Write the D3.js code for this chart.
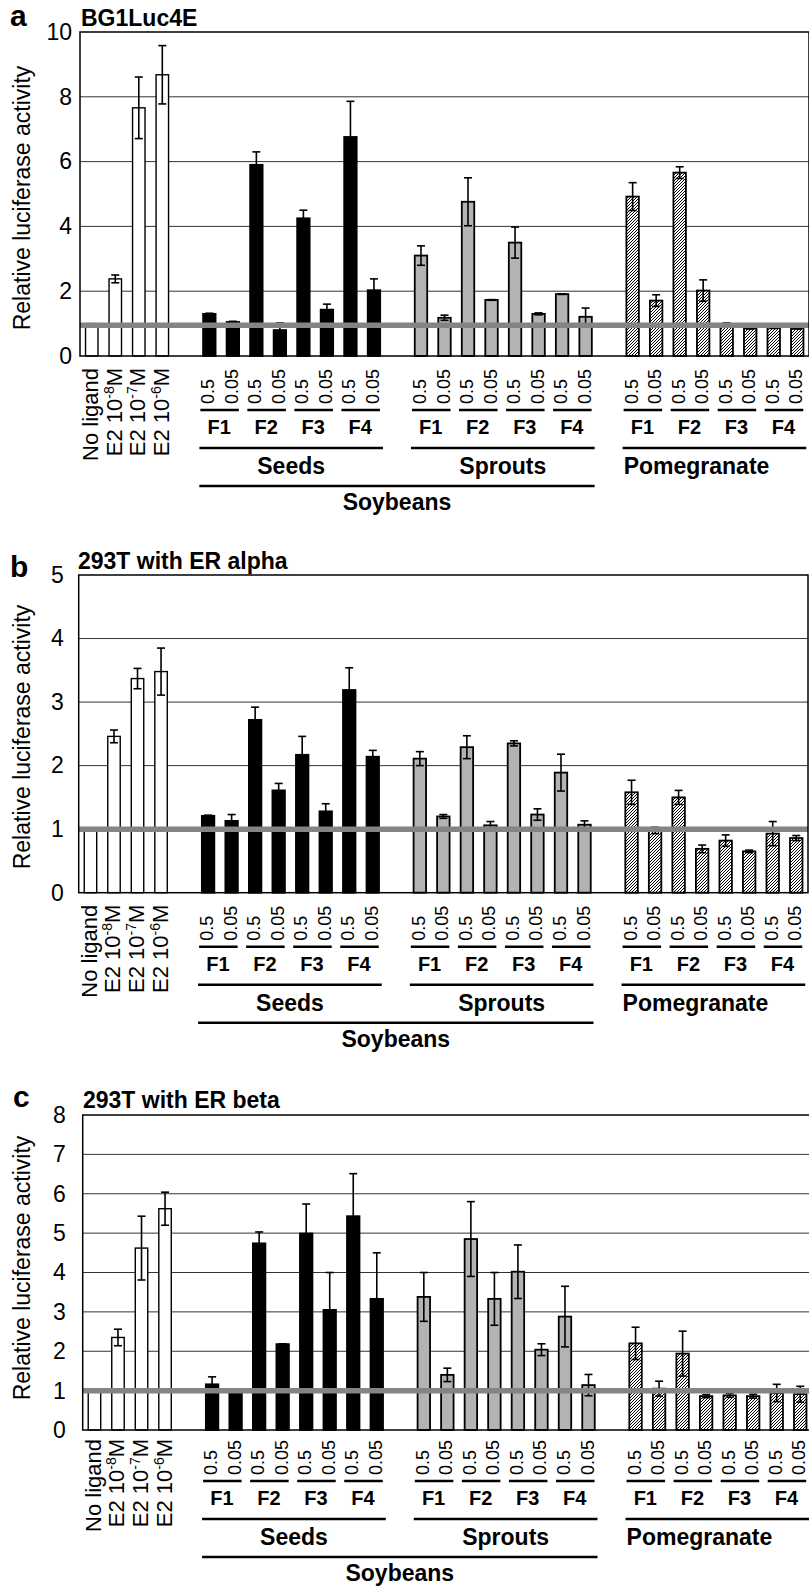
<!DOCTYPE html>
<html><head><meta charset="utf-8">
<script src="https://cdn.jsdelivr.net/npm/d3@7"></script>
<style>
body{margin:0;background:#fff}
svg{display:block;font-family:"Liberation Sans",Arial,Helvetica,sans-serif}
</style>
</head><body><div id="chart"></div>
<script>
const controls  = ['No ligand', 'E2 10-8M', 'E2 10-7M', 'E2 10-6M'];
const sources   = ['Seeds', 'Sprouts', 'Pomegranate'];
const fractions = ['F1', 'F2', 'F3', 'F4'];
const doses     = ['0.5', '0.05'];

const panelLetters = ['a', 'b', 'c'];
const panelTitles  = ['BG1Luc4E', '293T with ER alpha', '293T with ER beta'];
const yMax   = [10, 5, 8];
const yStep  = [2, 1, 1];
const refLvl = [0.95, 1, 1];

// order: 4 controls, Seeds F1..F4 (0.5, 0.05), Sprouts, Pomegranate
const meansA = [1.00, 2.38, 7.66, 8.68,
  1.30, 1.05, 5.90, 0.80, 4.25, 1.43, 6.76, 2.03,
  3.10, 1.18, 4.76, 1.73, 3.50, 1.30, 1.91, 1.21,
  4.92, 1.71, 5.66, 2.02, 0.96, 0.85, 0.88, 0.86];
const errsA  = [0, 0.12, 0.95, 0.90,
  0.02, 0.02, 0.40, 0.22, 0.25, 0.17, 1.10, 0.35,
  0.30, 0.08, 0.74, 0.01, 0.48, 0.03, 0.01, 0.27,
  0.43, 0.18, 0.18, 0.33, 0.06, 0.02, 0.03, 0.03];
const meansB = [1.00, 2.46, 3.37, 3.48,
  1.21, 1.13, 2.72, 1.61, 2.17, 1.28, 3.19, 2.14,
  2.11, 1.20, 2.29, 1.06, 2.35, 1.23, 1.89, 1.07,
  1.58, 0.98, 1.50, 0.69, 0.82, 0.65, 0.93, 0.86];
const errsB  = [0, 0.10, 0.16, 0.37,
  0.01, 0.10, 0.20, 0.11, 0.29, 0.12, 0.35, 0.10,
  0.11, 0.03, 0.18, 0.06, 0.04, 0.09, 0.29, 0.06,
  0.19, 0.05, 0.11, 0.06, 0.09, 0.02, 0.19, 0.04];
const meansC = [1.00, 2.35, 4.62, 5.62,
  1.16, 1.00, 4.74, 2.18, 4.99, 3.05, 5.43, 3.33,
  3.38, 1.40, 4.85, 3.33, 4.02, 2.04, 2.88, 1.14,
  2.20, 1.05, 1.94, 0.86, 0.88, 0.86, 0.94, 0.91];
const errsC  = [0, 0.21, 0.81, 0.42,
  0.19, 0, 0.29, 0.01, 0.75, 0.95, 1.08, 1.17,
  0.62, 0.17, 0.95, 0.67, 0.68, 0.15, 0.77, 0.27,
  0.41, 0.19, 0.57, 0.04, 0.05, 0.05, 0.22, 0.20];
const allMeans = [meansA, meansB, meansC];
const allErrs  = [errsA, errsB, errsC];

// layout per panel
const geo = [
  { left: 80,   right: 809, top: 32,   bottom: 356,   tickPad: 8,  lx: 10, ly: 26,   tx: 81, ty: 26,   yl: 198,  dy: 0 },
  { left: 78.7, right: 808, top: 575,  bottom: 892.7, tickPad: 15, lx: 10, ly: 577,  tx: 78, ty: 569,  yl: 737,  dy: 0 },
  { left: 82.7, right: 812, top: 1115, bottom: 1430,  tickPad: 17, lx: 13, ly: 1107, tx: 83, ty: 1108, yl: 1268, dy: -3 },
];

// slots: controls, gap, each source (8 bars) separated by gaps
const slots = [], bars = [];
controls.forEach(c => { slots.push('c|' + c); bars.push({ key: 'c|' + c, kind: 'ctl', label: c }); });
sources.forEach((s, si) => {
  slots.push('gap' + si);
  fractions.forEach(f => doses.forEach(d => {
    const k = s + '|' + f + '|' + d;
    slots.push(k); bars.push({ key: k, kind: s, frac: f, dose: d });
  }));
});

const FILL = { ctl: '#fff', Seeds: '#000', Sprouts: '#b3b3b3', Pomegranate: 'url(#hatch)' };

const svg = d3.select('#chart').append('svg').attr('width', 809).attr('height', 1589);
svg.append('defs').append('pattern').attr('id', 'hatch')
  .attr('patternUnits', 'userSpaceOnUse').attr('width', 3).attr('height', 3)
  .call(p => p.append('rect').attr('width', 3).attr('height', 3).attr('fill', '#fff'))
  .append('path').attr('d', 'M-1,1 l2,-2 M0,3 l3,-3 M2,4 l2,-2')
  .attr('stroke', '#000').attr('stroke-width', 1);

function drawPanel(i) {
  const g = geo[i];
  const means = allMeans[i], errs = allErrs[i];
  const x = d3.scaleBand().domain(slots).range([g.left, g.right]).paddingInner(0.47).paddingOuter(0.235);
  const y = d3.scaleLinear().domain([0, yMax[i]]).range([g.bottom, g.top]);
  const ticks = d3.range(0, yMax[i] + 0.001, yStep[i]);
  const cx = k => x(k) + x.bandwidth() / 2;
  const p = svg.append('g');

  // gridlines
  p.selectAll('.grid').data(ticks.slice(1, -1)).join('line')
    .attr('x1', g.left).attr('x2', g.right).attr('y1', d => y(d)).attr('y2', d => y(d))
    .attr('stroke', '#333').attr('stroke-width', 1);

  // y axis labels
  const ax = p.append('g').attr('transform', `translate(${g.left},0)`)
    .call(d3.axisLeft(y).tickValues(ticks).tickFormat(d3.format('d')).tickSize(0).tickPadding(g.tickPad));
  ax.select('.domain').remove();
  ax.selectAll('text').attr('font-size', 23).attr('font-family', null).attr('fill', '#000');

  // bars
  const data = bars.map((b, j) => ({ ...b, v: means[j], e: errs[j] }));
  p.selectAll('.bar').data(data).join('rect')
    .attr('x', d => x(d.key)).attr('width', x.bandwidth())
    .attr('y', d => y(d.v)).attr('height', d => y(0) - y(d.v))
    .attr('fill', d => FILL[d.kind]).attr('stroke', '#000')
    .attr('stroke-width', d => d.kind === 'ctl' ? 1.4 : 1.8);

  // error bars
  const eb = p.selectAll('.err').data(data.filter(d => d.e > 0)).join('g')
    .attr('stroke', '#000').attr('stroke-width', 1.6);
  eb.append('line').attr('x1', d => cx(d.key)).attr('x2', d => cx(d.key))
    .attr('y1', d => y(d.v - d.e)).attr('y2', d => y(d.v + d.e));
  [1, -1].forEach(sg => eb.append('line')
    .attr('x1', d => cx(d.key) - 4).attr('x2', d => cx(d.key) + 4)
    .attr('y1', d => y(d.v + sg * d.e)).attr('y2', d => y(d.v + sg * d.e)));

  // reference line
  p.append('line').attr('x1', g.left).attr('x2', g.right)
    .attr('y1', y(refLvl[i])).attr('y2', y(refLvl[i]))
    .attr('stroke', '#848484').attr('stroke-width', 5.5);

  // frame
  p.append('rect').attr('x', g.left).attr('y', g.top)
    .attr('width', g.right - g.left).attr('height', g.bottom - g.top)
    .attr('fill', 'none').attr('stroke', '#000').attr('stroke-width', 1.5);

  // titles
  p.append('text').attr('x', g.lx).attr('y', g.ly).attr('font-size', 30).attr('font-weight', 700).text(panelLetters[i]);
  p.append('text').attr('x', g.tx).attr('y', g.ty).attr('font-size', 23).attr('font-weight', 700).text(panelTitles[i]);
  p.append('text').attr('transform', `translate(29.5,${g.yl}) rotate(-90)`)
    .attr('text-anchor', 'middle').attr('font-size', 23).text('Relative luciferase activity');

  // x labels
  const y0 = g.bottom + g.dy;
  data.filter(d => d.kind === 'ctl').forEach(d => {
    const t = p.append('text').attr('transform', `translate(${cx(d.key) + 6.5},${y0 + 12}) rotate(-90)`)
      .attr('text-anchor', 'end').attr('font-size', 22);
    const m = d.label.match(/^(E2 10)(-\d)(M)$/);
    if (!m) { t.text(d.label); return; }
    t.append('tspan').text(m[1]);
    t.append('tspan').attr('font-size', 14).attr('dy', -8).text(m[2]);
    t.append('tspan').attr('dy', 8).text(m[3]);
  });
  data.filter(d => d.kind !== 'ctl').forEach(d => {
    p.append('text').attr('transform', `translate(${cx(d.key) + 5},${y0 + 48}) rotate(-90)`)
      .attr('font-size', 18).text(d.dose);
  });
  const line = (x1, x2, yy) => p.append('line').attr('x1', x1).attr('x2', x2).attr('y1', yy).attr('y2', yy)
    .attr('stroke', '#000').attr('stroke-width', 2.5);
  const span = {};
  sources.forEach(s => {
    fractions.forEach(f => {
      const a = cx(s + '|' + f + '|0.5'), b = cx(s + '|' + f + '|0.05');
      line(a - 9, b + 6, y0 + 54);
      p.append('text').attr('x', (a + b) / 2 - 2).attr('y', y0 + 78).attr('text-anchor', 'middle')
        .attr('font-size', 20).attr('font-weight', 700).text(f);
    });
    const s1 = cx(s + '|F1|0.5') - 10, s2 = cx(s + '|F4|0.05') + 9;
    span[s] = [s1, s2];
    line(s1, s2, y0 + 92);
    const pom = s === 'Pomegranate';
    p.append('text').attr('x', pom ? s1 + 1 : (s1 + s2) / 2).attr('y', y0 + 118)
      .attr('text-anchor', pom ? 'start' : 'middle').attr('font-size', 23).attr('font-weight', 700).text(s);
  });
  line(span.Seeds[0], span.Sprouts[1], y0 + 130);
  p.append('text').attr('x', (span.Seeds[0] + span.Sprouts[1]) / 2).attr('y', y0 + 154)
    .attr('text-anchor', 'middle').attr('font-size', 23).attr('font-weight', 700).text('Soybeans');
}

[0, 1, 2].forEach(drawPanel);
</script>
</body></html>
